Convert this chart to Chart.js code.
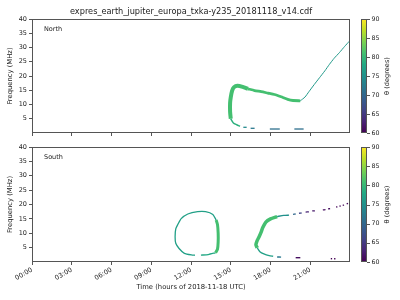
<!DOCTYPE html>
<html>
<head>
<meta charset="utf-8">
<script src="https://cdn.jsdelivr.net/npm/chart.js@4.4.0/dist/chart.umd.min.js"></script>
<style>
  html, body { margin: 0; padding: 0; background: #fff; }
  #wrap { position: relative; width: 400px; height: 300px; }
  canvas { position: absolute; left: 0; }
</style>
</head>
<body>
<div id="wrap">
  <canvas id="north" width="400" height="140" style="top:0px"></canvas>
  <canvas id="south" width="400" height="160" style="top:140px"></canvas>
</div>
<script>
const fileTitle = 'expres_earth_jupiter_europa_txka-y235_20181118_v14.cdf';
const hourTicks = [0, 3, 6, 9, 12, 15, 18, 21];
const freqTicks = [5, 10, 15, 20, 25, 30, 35, 40];
const thetaTicks = [60, 65, 70, 75, 80, 85, 90];

// North hemisphere track (hours UTC, MHz), theta in degrees
const nBottomHours = [15.7, 15.45, 15.2, 15.0];
const nBottomFreq = [2.35, 2.9, 3.5, 5.0];
const nVertHours = [15.0, 14.95, 14.95, 15.0, 15.1, 15.25, 15.5, 15.9, 16.3];
const nVertFreq = [5.0, 7.5, 10.5, 12.5, 14.8, 16.1, 16.6, 16.2, 15.5];
const nDescHours = [16.3, 16.8, 17.3, 17.8, 18.3, 18.8, 19.3, 19.7, 20.25];
const nDescFreq = [15.5, 14.9, 14.5, 14.0, 13.5, 12.7, 11.8, 11.4, 11.3];
const nRiseHours = [20.25, 20.6, 20.9, 21.3, 21.7, 22.1, 22.45, 22.8, 23.2, 23.6, 23.95];
const nRiseFreq = [11.3, 12.6, 14.5, 17.0, 19.4, 21.8, 24.1, 26.2, 28.2, 30.4, 32.2];
// [start hour, start MHz, end hour, end MHz, theta]
const nLowDashes = [[15.95, 2.0, 16.2, 2.0, 74], [16.5, 1.65, 16.8, 1.65, 72],
  [17.95, 1.4, 18.7, 1.4, 71], [19.8, 1.4, 20.5, 1.4, 71]];

// South hemisphere track
const sLoopLeftHours = [12.3, 12.1, 11.5, 11.1, 10.85, 10.8, 10.85, 11.0, 11.26, 11.76, 12.5, 13.1, 13.65, 13.9];
const sLoopLeftFreq = [2.35, 2.4, 3.0, 4.7, 6.5, 8.8, 11.5, 13.0, 15.1, 16.7, 17.5, 17.5, 16.5, 14.6];
const sLoopRightHours = [13.9, 14.0, 14.05, 14.05, 14.0, 13.85];
const sLoopRightFreq = [14.6, 13.0, 10.0, 7.0, 4.5, 3.2];
const sLoopBottomHours = [13.85, 13.3, 12.75];
const sLoopBottomFreq = [3.2, 2.6, 2.4];
const sArcHours = [17.0, 16.9, 17.0, 17.15, 17.3, 17.4, 17.65, 18.0, 18.5];
const sArcFreq = [4.9, 6.0, 7.5, 8.9, 10.5, 11.8, 13.9, 15.0, 15.8];
const sArcLowHours = [17.0, 17.2, 17.5, 17.9, 18.2];
const sArcLowFreq = [4.9, 3.6, 2.8, 2.2, 2.0];
const sArcTopHours = [18.5, 19.0, 19.4];
const sArcTopFreq = [15.8, 16.2, 16.3];
const sUpDashes = [[19.7, 16.6, 19.9, 16.7, 70], [20.15, 16.95, 20.35, 17.05, 66],
  [20.65, 17.35, 20.9, 17.45, 63], [21.15, 17.75, 21.35, 17.8, 62],
  [21.95, 18.1, 22.15, 18.2, 61], [22.35, 18.5, 22.5, 18.55, 61],
  [22.95, 19.1, 23.05, 19.2, 60.5], [23.2, 19.4, 23.3, 19.5, 60.5],
  [23.45, 19.7, 23.55, 19.8, 60.5], [23.75, 20.2, 23.85, 20.4, 60.5]];
const sLowDashes = [[18.5, 1.75, 18.8, 1.7, 72], [19.9, 1.5, 20.25, 1.5, 61],
  [22.55, 1.15, 22.65, 1.15, 60], [22.8, 1.15, 22.9, 1.15, 60]];

const VIR = ['#440154', '#482475', '#414487', '#355f8d', '#2a788e', '#21918c',
  '#22a884', '#44bf70', '#7ad151', '#bddf26', '#fde725'];

function hexRgb(h) {
  return [1, 3, 5].map(i => parseInt(h.substr(i, 2), 16));
}

function viridis(theta) {
  let t = (theta - 60) / 30;
  t = Math.max(0, Math.min(1, t)) * 10;
  const i = Math.min(9, Math.floor(t));
  const f = t - i;
  const a = hexRgb(VIR[i]), b = hexRgb(VIR[i + 1]);
  const c = a.map((v, k) => Math.round(v + (b[k] - v) * f));
  return 'rgb(' + c.join(',') + ')';
}

function piece(hours, freqs, theta, width) {
  return {
    data: hours.map((h, i) => ({x: h, y: freqs[i]})),
    borderColor: viridis(theta),
    borderWidth: width,
    borderJoinStyle: 'round',
    pointRadius: 0,
    tension: 0.2,
    fill: false
  };
}

function dashes(list, width) {
  return list.map(d => piece([d[0], d[2]], [d[1], d[3]], d[4], width));
}

const northSets = [
  piece(nBottomHours, nBottomFreq, 79, 1.5),
  piece(nVertHours, nVertFreq, 81, 4),
  piece(nDescHours, nDescFreq, 81, 2.8),
  piece(nRiseHours, nRiseFreq, 76, 1),
  ...dashes(nLowDashes, 1.3)
];

const southSets = [
  piece(sLoopLeftHours, sLoopLeftFreq, 77, 1.3),
  piece(sLoopRightHours, sLoopRightFreq, 81, 3),
  piece(sLoopBottomHours, sLoopBottomFreq, 78, 1.3),
  piece(sArcHours, sArcFreq, 81, 3.5),
  piece(sArcLowHours, sArcLowFreq, 77, 1.3),
  piece(sArcTopHours, sArcTopFreq, 75, 1.4),
  ...dashes(sUpDashes, 1.3),
  ...dashes(sLowDashes, 1.4)
];

Chart.defaults.font.family = 'DejaVu Sans';
Chart.defaults.color = '#222';

const FRAME = '#555';

const decor = {
  id: 'decor',
  afterDraw(chart, args, opts) {
    const ctx = chart.ctx;
    const a = chart.chartArea;
    const L = Math.round(a.left) + 0.5, T = Math.round(a.top) + 0.5;
    const R = Math.round(a.right) - 0.5, B = Math.round(a.bottom) - 0.5;
    ctx.save();
    ctx.strokeStyle = FRAME;
    ctx.lineWidth = 1;
    ctx.strokeRect(L, T, R - L, B - T);

    ctx.fillStyle = '#222';
    ctx.font = '6.5px "DejaVu Sans"';
    ctx.textAlign = 'left';
    ctx.textBaseline = 'middle';
    ctx.fillText(opts.label, a.left + 12, a.top + 10);

    if (opts.title) {
      ctx.font = '8.2px "DejaVu Sans"';
      ctx.textAlign = 'center';
      ctx.fillText(opts.title, (a.left + a.right) / 2, 11.5);
    }

    // colour bar
    const cx = 361, cw = 6;
    const top = a.top, bot = a.bottom;
    const g = ctx.createLinearGradient(0, bot, 0, top);
    VIR.forEach((c, i) => g.addColorStop(i / 10, c));
    ctx.fillStyle = g;
    ctx.fillRect(cx, top, cw, bot - top);
    ctx.strokeStyle = FRAME;
    ctx.strokeRect(cx + 0.5, Math.round(top) + 0.5, cw - 1, Math.round(bot - top) - 1);
    ctx.fillStyle = '#222';
    ctx.font = '6.3px "DejaVu Sans"';
    ctx.textAlign = 'left';
    ctx.textBaseline = 'middle';
    thetaTicks.forEach(v => {
      const y = bot - (v - 60) / 30 * (bot - top);
      const yy = Math.round(y) + 0.5;
      ctx.beginPath();
      ctx.moveTo(cx + cw, yy);
      ctx.lineTo(cx + cw + 3, yy);
      ctx.stroke();
      ctx.fillText(String(v), cx + cw + 4.5, y);
    });
    ctx.save();
    ctx.translate(387, (top + bot) / 2);
    ctx.rotate(-Math.PI / 2);
    ctx.textAlign = 'center';
    ctx.font = '6.6px "DejaVu Sans"';
    ctx.fillText('\u03B8 (degrees)', 0, 0);
    ctx.restore();
    ctx.restore();
  }
};

function makeOptions(isBottom, label) {
  return {
    responsive: false,
    animation: false,
    events: [],
    layout: {padding: {top: isBottom ? 7 : 19, right: 50, left: 0, bottom: 0}},
    plugins: {
      legend: {display: false},
      tooltip: {enabled: false},
      decor: {label: label, title: isBottom ? null : fileTitle}
    },
    scales: {
      x: {
        type: 'linear',
        min: 0,
        max: 24,
        afterBuildTicks: s => { s.ticks = hourTicks.map(v => ({value: v})); },
        afterFit: s => { s.height = isBottom ? 38 : 7; },
        grid: {drawOnChartArea: false, drawTicks: true, tickLength: 3, color: FRAME},
        border: {display: false},
        ticks: {
          display: isBottom,
          autoSkip: false,
          minRotation: 30,
          maxRotation: 30,
          padding: 1,
          font: {size: 6.5},
          callback: v => String(v).padStart(2, '0') + ':00'
        },
        title: {
          display: isBottom,
          text: 'Time (hours of 2018-11-18 UTC)',
          font: {size: 6.8},
          padding: {top: 0, bottom: 9}
        }
      },
      y: {
        min: 0,
        max: 40,
        afterBuildTicks: s => { s.ticks = freqTicks.map(v => ({value: v})); },
        afterFit: s => { s.width = 32; },
        grid: {drawOnChartArea: false, drawTicks: true, tickLength: 3, color: FRAME},
        border: {display: false},
        ticks: {padding: 2, font: {size: 6.5}},
        title: {
          display: true,
          text: 'Frequency (MHz)',
          font: {size: 6.8},
          padding: {top: 6, bottom: 0}
        }
      }
    }
  };
}

new Chart(document.getElementById('north'), {
  type: 'line',
  data: {datasets: northSets},
  options: makeOptions(false, 'North'),
  plugins: [decor]
});

new Chart(document.getElementById('south'), {
  type: 'line',
  data: {datasets: southSets},
  options: makeOptions(true, 'South'),
  plugins: [decor]
});
</script>
</body>
</html>
